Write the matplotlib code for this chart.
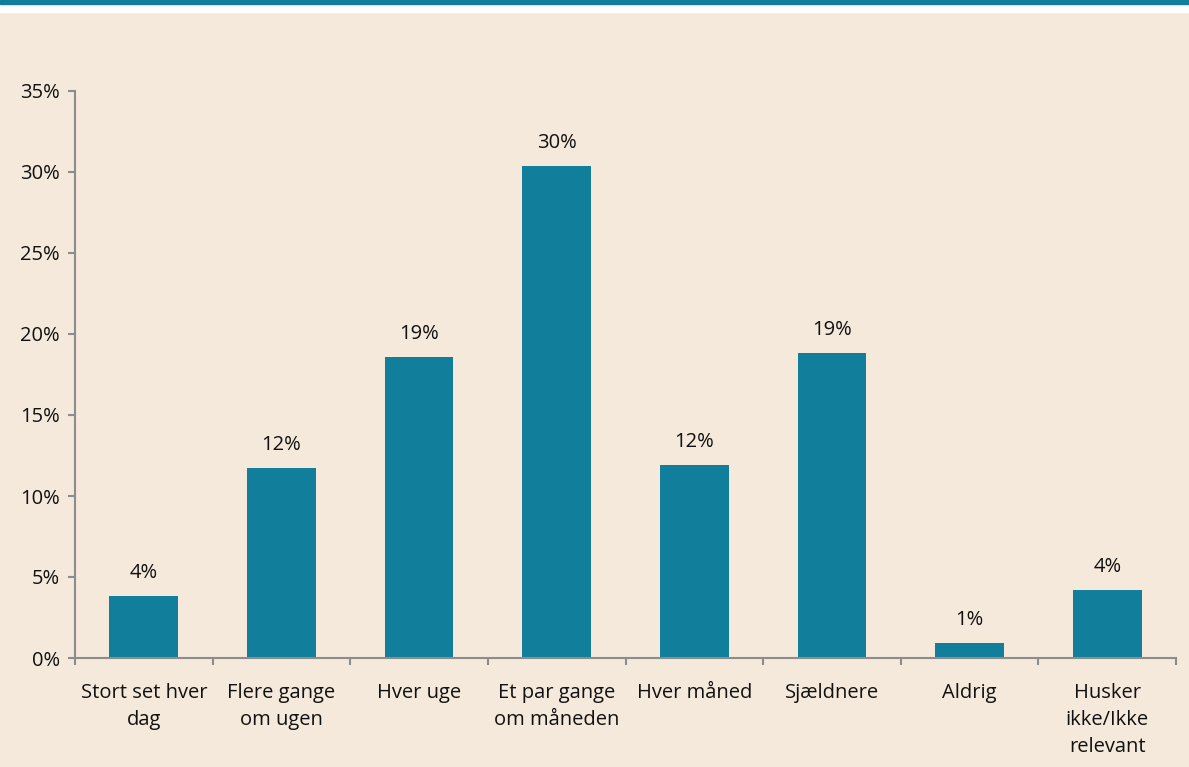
import numpy as np
import matplotlib.pyplot as plt
from matplotlib.patches import Rectangle
from matplotlib.ticker import FixedLocator, PercentFormatter

categories = ['Stort set hver\ndag', 'Flere gange\nom ugen', 'Hver uge', 'Et par gange\nom måneden',
              'Hver måned', 'Sjældnere', 'Aldrig', 'Husker\nikke/Ikke\nrelevant']
values = [3.8, 11.7, 18.6, 30.4, 11.9, 18.8, 0.9, 4.2]
labels = ['4%', '12%', '19%', '30%', '12%', '19%', '1%', '4%']

bg = '#f5e9dc'
teal = '#117f9b'
grey = '#8c8c8c'
plt.rcParams['font.family'] = ['Open Sans', 'DejaVu Sans']
fs = 14.5

fig = plt.figure(figsize=(11.89, 7.67), dpi=100)
fig.patch.set_facecolor(bg)
# top bands
fig.patches.append(Rectangle((0, 1 - 12 / 767), 1, 12 / 767, transform=fig.transFigure, color='white', zorder=0))
fig.patches.append(Rectangle((0, 1 - 4 / 767), 1, 4 / 767, transform=fig.transFigure, color=teal, zorder=1))

ax = fig.add_axes([75 / 1189, 109 / 767, 1101 / 1189, 567 / 767])
ax.set_facecolor(bg)
x = np.arange(len(categories))
ax.bar(x, values, width=0.5, color=teal, zorder=2)
for xi, v, lab in zip(x, values, labels):
    ax.text(xi, v + 0.8, lab, ha='center', va='bottom', fontsize=fs, color='#111111')

ax.set_xlim(-0.5, len(categories) - 0.5)
ax.set_ylim(0, 35)
ax.set_yticks(np.arange(0, 36, 5))
ax.yaxis.set_major_formatter(PercentFormatter(decimals=0))
ax.set_xticks(x)
ax.set_xticklabels(categories, fontsize=fs, color='#111111', linespacing=1.45)
ax.xaxis.set_minor_locator(FixedLocator(np.arange(-0.5, len(categories), 1)))
ax.tick_params(axis='x', which='major', length=0, pad=18)
ax.tick_params(axis='x', which='minor', length=5, color=grey, width=1.5)
ax.tick_params(axis='y', length=5, color=grey, width=1.5, labelsize=fs, labelcolor='#111111', pad=6)

for s in ['top', 'right']:
    ax.spines[s].set_visible(False)
for s in ['left', 'bottom']:
    ax.spines[s].set_color(grey)
    ax.spines[s].set_linewidth(1.5)

fig.savefig('out.png', dpi=100, facecolor=bg)
